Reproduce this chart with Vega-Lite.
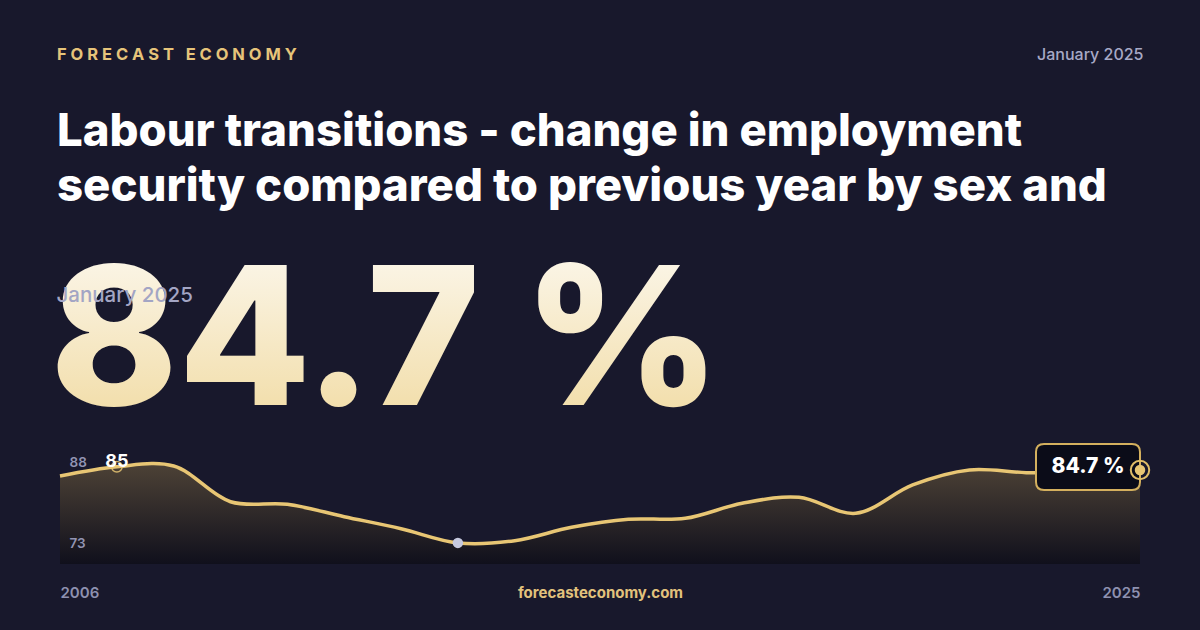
{
  "$schema": "https://vega.github.io/schema/vega-lite/v6.json",
  "width": 1080,
  "height": 114,
  "autosize": {"type": "none"},
  "padding": {"left": 60, "right": 60, "top": 450, "bottom": 66},
  "background": "#18182c",
  "config": {"font": "Inter", "view": {"stroke": null}},
  "title": {
    "text": "F O R E C A S T \u00a0 E C O N O M Y",
    "subtitle": ["Labour transitions - change in employment", "security compared to previous year by sex and"],
    "anchor": "start",
    "frame": "group",
    "orient": "top",
    "dx": -3,
    "offset": -164,
    "font": "Inter",
    "fontSize": 16.5,
    "fontWeight": 700,
    "color": "#e6c47a",
    "subtitleFont": "Inter",
    "subtitleFontSize": 45.5,
    "subtitleFontWeight": 800,
    "subtitleColor": "#ffffff",
    "subtitleLineHeight": 55,
    "subtitlePadding": 46
  },
  "data": {
    "values": [
      {"year": 2006, "value": 85.55},
      {"year": 2007, "value": 87.26},
      {"year": 2008, "value": 87.39},
      {"year": 2009, "value": 80.8},
      {"year": 2010, "value": 80.32},
      {"year": 2011, "value": 78.04},
      {"year": 2012, "value": 75.82},
      {"year": 2013, "value": 73.2},
      {"year": 2014, "value": 73.61},
      {"year": 2015, "value": 76.08},
      {"year": 2016, "value": 77.56},
      {"year": 2017, "value": 77.74},
      {"year": 2018, "value": 80.51},
      {"year": 2019, "value": 81.62},
      {"year": 2020, "value": 78.66},
      {"year": 2021, "value": 83.89},
      {"year": 2022, "value": 86.65},
      {"year": 2023, "value": 86.16},
      {"year": 2024, "value": 86.28},
      {"year": 2025, "value": 86.65}
    ]
  },
  "resolve": {"axis": {"x": "independent", "y": "independent"}},
  "layer": [
    {
      "mark": {
        "type": "area",
        "interpolate": "catmull-rom",
        "color": {
          "gradient": "linear",
          "x1": 0, "y1": 0, "x2": 0, "y2": 1,
          "stops": [
            {"offset": 0, "color": "#4d4236"},
            {"offset": 1, "color": "#10101c"}
          ]
        }
      },
      "encoding": {
        "x": {
          "field": "year",
          "type": "quantitative",
          "scale": {"domain": [2006, 2025], "nice": false, "zero": false},
          "axis": {
            "values": [2006, 2025],
            "format": "d",
            "labelFlush": true,
            "ticks": false,
            "tickSize": 0,
            "domain": false,
            "grid": false,
            "labelPadding": 28,
            "labelBaseline": "middle",
            "labelColor": "#8e91b0",
            "labelFontSize": 15,
            "labelFontWeight": 600,
            "title": "forecasteconomy.com",
            "titleColor": "#e2c27c",
            "titleFontSize": 15,
            "titleFontWeight": 700,
            "titleY": 28,
            "titleBaseline": "middle"
          }
        },
        "y": {
          "field": "value",
          "type": "quantitative",
          "scale": {"domain": [69.31, 90.34], "nice": false, "zero": false},
          "axis": {
            "values": [73, 88],
            "ticks": false,
            "tickSize": 0,
            "domain": false,
            "grid": false,
            "labelAlign": "left",
            "labelPadding": -9,
            "labelBaseline": "middle",
            "labelColor": "#9294b3",
            "labelFontSize": 13.5,
            "labelFontWeight": 600,
            "title": "January 2025",
            "titleAngle": 0,
            "titleAlign": "left",
            "titleBaseline": "middle",
            "titleX": -4,
            "titleY": -155,
            "titleColor": "#a3a5c4",
            "titleFontSize": 20.5,
            "titleFontWeight": 500,
            "zindex": 1
          }
        },
        "y2": {"datum": 69.31}
      }
    },
    {
      "mark": {"type": "line", "interpolate": "catmull-rom", "color": "#e8c674", "strokeWidth": 3.5},
      "encoding": {
        "x": {
          "field": "year",
          "type": "quantitative",
          "axis": {
            "orient": "top",
            "labels": false,
            "ticks": false,
            "tickSize": 0,
            "domain": false,
            "grid": false,
            "title": "January 2025",
            "titleX": 1083,
            "titleY": -396,
            "titleAlign": "right",
            "titleBaseline": "middle",
            "titleColor": "#a7a9c6",
            "titleFontSize": 16,
            "titleFontWeight": 500
          }
        },
        "y": {"field": "value", "type": "quantitative", "axis": null}
      }
    },
    {
      "transform": [{"filter": "datum.year == 2025"}],
      "mark": {
        "type": "text",
        "text": "84.7 %",
        "fontSize": 193,
        "fontWeight": 800,
        "align": "left",
        "baseline": "alphabetic",
        "dx": -10,
        "color": {
          "gradient": "linear",
          "x1": 0, "y1": 0, "x2": 0, "y2": 1,
          "stops": [
            {"offset": 0, "color": "#fdfbf6"},
            {"offset": 1, "color": "#f0d89b"}
          ]
        }
      },
      "encoding": {
        "x": {"datum": 2006, "type": "quantitative", "axis": null},
        "y": {"datum": 98.65, "type": "quantitative", "axis": null}
      }
    },
    {
      "transform": [{"filter": "datum.year == 2007"}],
      "mark": {"type": "point", "filled": false, "color": "#e8c674", "strokeWidth": 1.5, "size": 113, "opacity": 0.85},
      "encoding": {
        "x": {"field": "year", "type": "quantitative", "axis": null},
        "y": {"field": "value", "type": "quantitative", "axis": null}
      }
    },
    {
      "transform": [{"filter": "datum.year == 2007"}],
      "mark": {"type": "text", "text": "85", "fontSize": 18, "fontWeight": 700, "color": "#ffffff", "baseline": "middle", "dy": -5},
      "encoding": {
        "x": {"field": "year", "type": "quantitative", "axis": null},
        "y": {"field": "value", "type": "quantitative", "axis": null}
      }
    },
    {
      "transform": [{"filter": "datum.year == 2013"}],
      "mark": {"type": "point", "filled": true, "color": "#c6c9df", "size": 110, "opacity": 1},
      "encoding": {
        "x": {"field": "year", "type": "quantitative", "axis": null},
        "y": {"field": "value", "type": "quantitative", "axis": null}
      }
    },
    {
      "transform": [{"filter": "datum.year == 2025"}],
      "mark": {
        "type": "point",
        "shape": "M -1.846 -0.5 L -0.154 -0.5 Q 0 -0.5 0 -0.346 L 0 0.231 Q 0 0.385 -0.154 0.385 L -1.846 0.385 Q -2 0.385 -2 0.231 L -2 -0.346 Q -2 -0.5 -1.846 -0.5 Z",
        "size": 10816,
        "filled": true,
        "fill": "#0b0c18",
        "stroke": "#d4b05e",
        "strokeWidth": 2,
        "opacity": 1,
        "fillOpacity": 1
      },
      "encoding": {
        "x": {"field": "year", "type": "quantitative", "axis": null},
        "y": {"field": "value", "type": "quantitative", "axis": null}
      }
    },
    {
      "transform": [{"filter": "datum.year == 2025"}],
      "mark": {"type": "text", "text": "84.7 %", "fontSize": 21, "fontWeight": 800, "color": "#ffffff", "align": "center", "baseline": "middle", "dx": -52, "dy": -3},
      "encoding": {
        "x": {"field": "year", "type": "quantitative", "axis": null},
        "y": {"field": "value", "type": "quantitative", "axis": null}
      }
    },
    {
      "transform": [{"filter": "datum.year == 2025"}],
      "mark": {"type": "point", "filled": false, "color": "#e0bd68", "strokeWidth": 2, "size": 340, "opacity": 1},
      "encoding": {
        "x": {"field": "year", "type": "quantitative", "axis": null},
        "y": {"field": "value", "type": "quantitative", "axis": null}
      }
    },
    {
      "transform": [{"filter": "datum.year == 2025"}],
      "mark": {"type": "point", "filled": true, "color": "#e8c674", "size": 110, "opacity": 1},
      "encoding": {
        "x": {"field": "year", "type": "quantitative", "axis": null},
        "y": {"field": "value", "type": "quantitative", "axis": null}
      }
    }
  ]
}
